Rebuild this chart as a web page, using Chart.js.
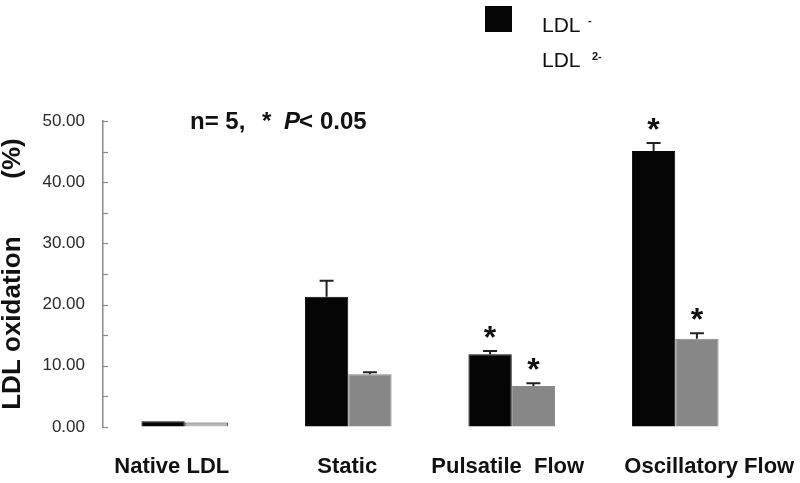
<!DOCTYPE html>
<html>
<head>
<meta charset="utf-8">
<script src="https://cdn.jsdelivr.net/npm/chart.js@4.4.0/dist/chart.umd.min.js"></script>
<style>
  html, body { margin: 0; padding: 0; background: #fff; }
  #wrap { width: 800px; height: 483px; }
</style>
</head>
<body>
<div id="wrap"><canvas id="chart"></canvas></div>
<script>
// data
var categories = ['Native LDL', 'Static', 'Pulsatile  Flow', 'Oscillatory Flow'];
var ldlMinus = [0.95, 21.3, 11.9, 45.1];
var ldlMinusErr = [0, 2.6, 0.5, 1.3];
var ldlMinusSig = [false, false, true, true];
var ldl2Minus = [0.75, 8.6, 6.7, 14.4];
var ldl2MinusErr = [0, 0.35, 0.45, 0.9];
var ldl2MinusSig = [false, false, true, true];
var yMin = 0, yMax = 50, yStep = 10, yMinorStep = 5;

var errors = [ldlMinusErr, ldl2MinusErr];
var sigs = [ldlMinusSig, ldl2MinusSig];
var FONT = '"Liberation Sans", Arial, sans-serif';

// small inside ticks on the y axis, every 5
var axisTicks = {
    id: 'axisTicks',
    afterDraw: function(chart){
        var ctx = chart.ctx, y = chart.scales.y, x0 = chart.chartArea.left;
        ctx.save();
        ctx.strokeStyle = '#8a8a8a';
        ctx.lineWidth = 1.2;
        for (var v = yMin; v <= yMax; v += yMinorStep) {
            var py = Math.round(y.getPixelForValue(v)) + 0.5;
            ctx.beginPath();
            ctx.moveTo(x0, py);
            ctx.lineTo(x0 + 5, py);
            ctx.stroke();
        }
        ctx.restore();
    }
};

// category labels, nudged a bit like in the original figure
var catLabels = {
    id: 'catLabels',
    afterDraw: function(chart){
        var ctx = chart.ctx, x = chart.scales.x;
        var nudge = [-13, -1, -4, 34];
        ctx.save();
        ctx.fillStyle = '#111';
        ctx.font = 'bold 22px ' + FONT;
        ctx.textAlign = 'center';
        ctx.textBaseline = 'middle';
        x.ticks.forEach(function(t, i){
            ctx.fillText(x.getLabelForValue(t.value), x.getPixelForTick(i) + nudge[i], 467);
        });
        ctx.restore();
    }
};

// upper error bars + significance stars
var errorBars = {
    id: 'errorBars',
    afterDatasetsDraw: function(chart){
        var ctx = chart.ctx, y = chart.scales.y;
        ctx.save();
        chart.data.datasets.forEach(function(ds, di){
            var meta = chart.getDatasetMeta(di);
            meta.data.forEach(function(bar, i){
                var top = y.getPixelForValue(ds.data[i] + errors[di][i]);
                if (errors[di][i] > 0) {
                    ctx.strokeStyle = '#222';
                    ctx.lineWidth = 2;
                    ctx.beginPath();
                    ctx.moveTo(bar.x, bar.y);
                    ctx.lineTo(bar.x, top);
                    ctx.moveTo(bar.x - 7, top);
                    ctx.lineTo(bar.x + 7, top);
                    ctx.stroke();
                }
                if (sigs[di][i]) {
                    ctx.fillStyle = '#111';
                    ctx.font = 'bold 32px ' + FONT;
                    ctx.textAlign = 'center';
                    ctx.textBaseline = 'alphabetic';
                    ctx.fillText('*', bar.x, top - 3);
                }
            });
        });
        ctx.restore();
    }
};

// note text and the legend block at the top
var extras = {
    id: 'extras',
    afterDraw: function(chart){
        var ctx = chart.ctx;
        ctx.save();
        ctx.fillStyle = '#111';
        ctx.textAlign = 'left';
        ctx.textBaseline = 'alphabetic';
        ctx.font = 'bold 24px ' + FONT;
        ctx.fillText('n= 5,', 190, 129);
        ctx.fillText('*', 262, 129);
        ctx.font = 'italic bold 24px ' + FONT;
        ctx.fillText('P', 284, 129);
        ctx.font = 'bold 24px ' + FONT;
        ctx.fillText('<', 299, 129);
        ctx.fillText('0.05', 320, 129);

        // legend
        var ds = chart.data.datasets;
        ctx.fillStyle = ds[0].backgroundColor;
        ctx.fillRect(485, 6, 27, 26);
        ctx.fillStyle = '#fff';
        ctx.fillRect(485, 42, 27, 26);
        ctx.fillStyle = '#111';
        ctx.font = '21px ' + FONT;
        ctx.fillText('LDL', 542, 32);
        ctx.fillText('LDL', 542, 67);
        ctx.font = 'bold 11px ' + FONT;
        ctx.fillText('-', 588, 24);
        ctx.fillText('2-', 592, 60);
        ctx.restore();
    }
};

window.addEventListener('load', function(){
    var ctx = document.getElementById('chart').getContext('2d');
    new Chart(ctx, {
        type: 'bar',
        data: {
            labels: categories,
            datasets: [
                { label: 'LDL -', data: ldlMinus, backgroundColor: '#050505',
                  borderColor: '#050505', borderWidth: 1 },
                { label: 'LDL 2-', data: ldl2Minus,
                  backgroundColor: function(c){ return c.raw < 2 ? '#b8b8b8' : '#878787'; },
                  borderColor: function(c){ return c.raw < 2 ? '#444' : '#878787'; },
                  borderWidth: 1 }
            ]
        },
        options: {
            responsive: true,
            maintainAspectRatio: false,
            animation: false,
            layout: { padding: { top: 121, right: 43, bottom: 3, left: 0 } },
            plugins: {
                legend: { display: false },
                tooltip: { enabled: false },
                title: { display: false }
            },
            datasets: { bar: { categoryPercentage: 0.53, barPercentage: 1 } },
            scales: {
                x: {
                    afterFit: function(scale){ scale.height = 53; },
                    grid: { display: false, drawTicks: false },
                    border: { display: false },
                    ticks: { display: false, autoSkip: false }
                },
                y: {
                    min: yMin,
                    max: yMax,
                    afterFit: function(scale){ scale.width = 103; },
                    grid: { display: true, drawOnChartArea: false, drawTicks: false },
                    border: { display: true, color: '#8a8a8a', width: 1.5 },
                    ticks: {
                        stepSize: yStep,
                        color: '#2a2a2a',
                        padding: 18,
                        font: { family: FONT, size: 17 },
                        callback: function(v){ return v.toFixed(2); }
                    },
                    title: {
                        display: true,
                        text: 'LDL oxidation        (%)',
                        color: '#111',
                        padding: { top: 0, bottom: 0 },
                        font: { family: FONT, size: 26, weight: 'bold', lineHeight: 1 }
                    }
                }
            }
        },
        plugins: [axisTicks, catLabels, errorBars, extras]
    });
});
</script>
</body>
</html>
